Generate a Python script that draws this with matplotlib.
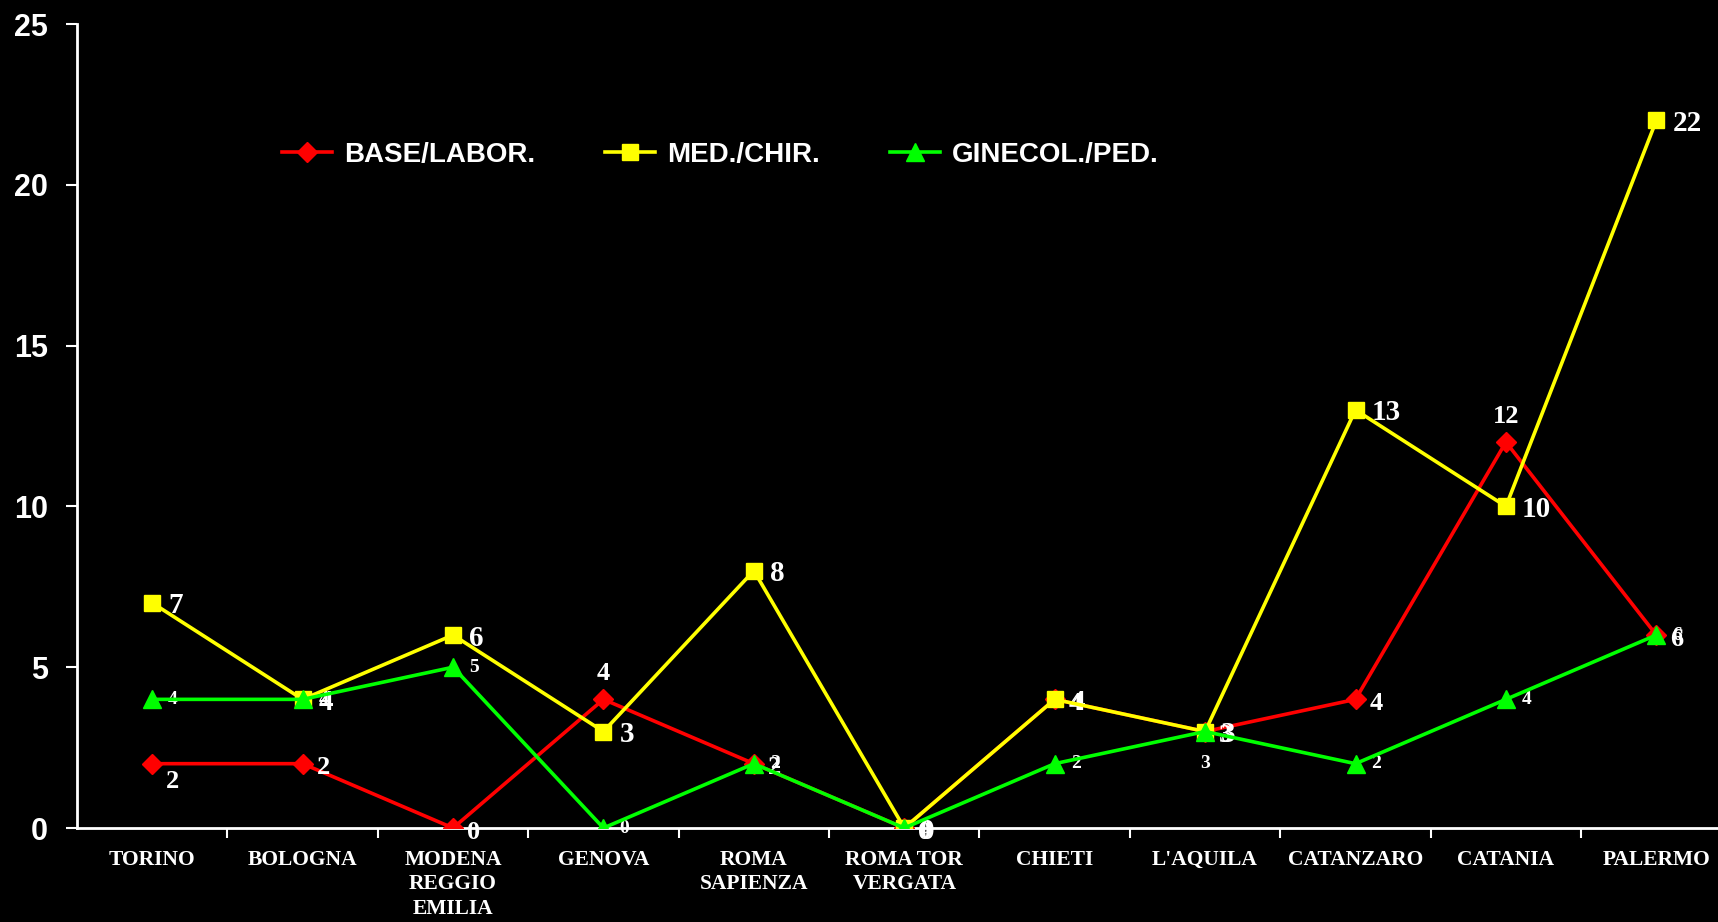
import matplotlib
matplotlib.use("Agg")
import matplotlib.pyplot as plt

# data
cities = ["TORINO", "BOLOGNA", "MODENA\nREGGIO\nEMILIA", "GENOVA", "ROMA\nSAPIENZA",
          "ROMA TOR\nVERGATA", "CHIETI", "L'AQUILA", "CATANZARO", "CATANIA", "PALERMO"]
base_labor = [2, 2, 0, 4, 2, 0, 4, 3, 4, 12, 6]
med_chir = [7, 4, 6, 3, 8, 0, 4, 3, 13, 10, 22]
ginecol_ped = [4, 4, 5, 0, 2, 0, 2, 3, 2, 4, 6]

fig = plt.figure(figsize=(17.18, 9.22), dpi=100, facecolor="black")
ax = fig.add_axes([77 / 1718, 94 / 922, 1641 / 1718, 804 / 922])
ax.set_facecolor("black")

x = list(range(len(cities)))

ax.plot(x, base_labor, color="#ff0000", lw=2.6, marker="D", ms=10, label="BASE/LABOR.", zorder=3)
ax.plot(x, med_chir, color="#ffff00", lw=2.6, marker="s", ms=12, label="MED./CHIR.", zorder=4)
ax.plot(x, ginecol_ped, color="#00ff00", lw=2.6, marker="^", ms=13, label="GINECOL./PED.", zorder=5)

lab = dict(color="white", fontweight="bold", family="Liberation Serif")

# value labels (mostly to the right of each point)
for i, v in enumerate(base_labor):
    dx, dy, ha, va = 14, -4, "left", "center"
    if i == 0:
        dx, dy = 14, -18
    if i in (3, 9):
        dx, dy, ha, va = 0, 14, "center", "bottom"
    ax.annotate(str(v), (i, v), xytext=(dx, dy), textcoords="offset pixels",
                ha=ha, va=va, fontsize=19, **lab)
for i, v in enumerate(med_chir):
    ax.annotate(str(v), (i, v), xytext=(16, -3), textcoords="offset pixels",
                ha="left", va="center", fontsize=21, **lab)
for i, v in enumerate(ginecol_ped):
    dx, dy, ha = 16, 0, "left"
    if i == 7:
        dx, dy, ha = 0, -32, "center"
    ax.annotate(str(v), (i, v), xytext=(dx, dy), textcoords="offset pixels",
                ha=ha, va="center", fontsize=14, **lab)

ax.set_xlim(-0.5, 10.41)
ax.set_ylim(0, 25)
ax.set_yticks([0, 5, 10, 15, 20, 25])
ax.set_xticks([i + 0.5 for i in range(10)])
ax.set_xticklabels([])
ax.set_xticks(x, minor=True)
ax.set_xticklabels(cities, minor=True, color="white", fontweight="bold",
                   family="Liberation Serif", fontsize=15.5, linespacing=1.28)
ax.tick_params(axis="x", which="minor", length=0, pad=16)
ax.tick_params(axis="x", which="major", length=7, width=1.5, color="white")
ax.tick_params(axis="y", length=8, width=1.5, color="white", labelcolor="white",
               labelsize=22, pad=13)
for t in ax.get_yticklabels():
    t.set_fontweight("bold")
    t.set_family("Liberation Sans")

for s in ("top", "right"):
    ax.spines[s].set_visible(False)
for s in ("left", "bottom"):
    ax.spines[s].set_color("white")
    ax.spines[s].set_linewidth(2)

leg = ax.legend(loc="center left", bbox_to_anchor=(268 / 1718, 1 - 155 / 922),
                bbox_transform=fig.transFigure, ncol=3, frameon=False,
                borderpad=0, handlelength=1.8, handletextpad=0.45, columnspacing=2.5,
                prop={"family": "Liberation Sans", "weight": "bold", "size": 20})
for t in leg.get_texts():
    t.set_color("white")

fig.savefig("out.png", dpi=100, facecolor="black")
